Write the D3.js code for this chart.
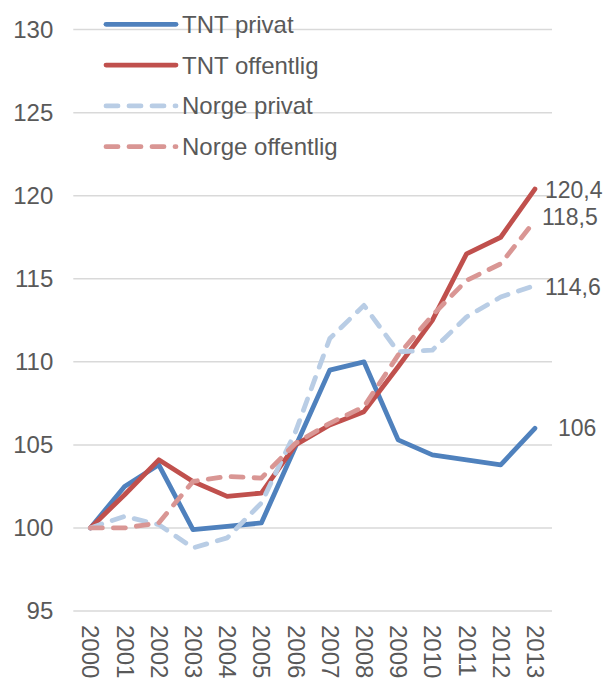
<!DOCTYPE html>
<html>
<head>
<meta charset="utf-8">
<script src="https://cdn.jsdelivr.net/npm/d3@7"></script>
<style>
  html, body { margin: 0; padding: 0; background: #ffffff; }
  svg { display: block; font-family: "Liberation Sans", Arial, sans-serif; }
</style>
</head>
<body>
<svg id="chart" width="606" height="678"></svg>
<script>
// ---- data ----
const years = ["2000","2001","2002","2003","2004","2005","2006","2007","2008","2009","2010","2011","2012","2013"];
const seriesNames = ["TNT privat", "TNT offentlig", "Norge privat", "Norge offentlig"];
const tntPrivat      = [100, 102.5, 103.8, 99.9, 100.1, 100.3, 104.9, 109.5, 110.0, 105.3, 104.4, 104.1, 103.8, 106];
const tntOffentlig   = [100, 102.0, 104.1, 102.8, 101.9, 102.1, 105.0, 106.2, 107.0, 109.7, 112.5, 116.5, 117.5, 120.4];
const norgePrivat    = [100, 100.7, 100.2, 98.8, 99.4, 101.5, 105.8, 111.4, 113.4, 110.6, 110.7, 112.7, 113.9, 114.6];
const norgeOffentlig = [100, 100.0, 100.3, 102.8, 103.1, 103.0, 105.1, 106.3, 107.3, 110.4, 112.8, 114.9, 115.9, 118.5];
const yTicks = [95, 100, 105, 110, 115, 120, 125, 130];

// ---- styles / layout ----
const styles = [
  { color: "#4F81BD", dash: null },
  { color: "#C0504D", dash: null },
  { color: "#B9CDE5", dash: "12,11" },
  { color: "#D99694", dash: "12,11" }
];
const endLabelOffsets = [ {dx: 23, dy: 0}, {dx: 10, dy: 1}, {dx: 10, dy: 2}, {dx: 7, dy: -4} ];
const allValues = [tntPrivat, tntOffentlig, norgePrivat, norgeOffentlig];
const textColor = "#595959";
const gridColor = "#D9D9D9";
const axisFont = 24, labelFont = 23, legendFont = 24;

const svg = d3.select("#chart");
const plotLeft = 73.3, plotRight = 552, plotTop = 29.6, plotBottom = 611;

const x = d3.scalePoint().domain(years).range([plotLeft, plotRight]).padding(0.5);
const y = d3.scaleLinear().domain([95, 130]).range([plotBottom, plotTop]);

// gridlines
svg.append("g").selectAll("line").data(yTicks.filter(t => t !== 95)).join("line")
  .attr("x1", plotLeft).attr("x2", plotRight)
  .attr("y1", d => y(d)).attr("y2", d => y(d))
  .attr("stroke", gridColor).attr("stroke-width", 1.5);

// y axis
const yAxis = svg.append("g").attr("transform", `translate(${plotLeft},0)`)
  .call(d3.axisLeft(y).tickValues(yTicks).tickSize(0).tickPadding(20).tickFormat(d3.format("d")));
yAxis.select(".domain").remove();
yAxis.selectAll("text").attr("fill", textColor).style("font-size", axisFont + "px")
  .style("font-family", "'Liberation Sans', Arial, sans-serif");

// x axis
const xAxis = svg.append("g").attr("transform", `translate(0,${plotBottom})`)
  .call(d3.axisBottom(x).tickSize(0).tickPadding(0));
xAxis.select(".domain").attr("stroke", gridColor).attr("stroke-width", 1.5)
  .attr("d", `M${plotLeft},0H${plotRight}`);
xAxis.selectAll("text")
  .attr("fill", textColor).style("font-size", axisFont + "px")
  .style("font-family", "'Liberation Sans', Arial, sans-serif")
  .attr("text-anchor", "start")
  .attr("y", 0).attr("x", 0).attr("dy", "0.35em")
  .attr("transform", "translate(0,14) rotate(90)");

// lines
const line = d3.line().x((d, i) => x(years[i])).y(d => y(d));
allValues.forEach((vals, k) => {
  svg.append("path").datum(vals)
    .attr("d", line)
    .attr("fill", "none")
    .attr("stroke", styles[k].color)
    .attr("stroke-width", 4.8)
    .attr("stroke-linejoin", "round")
    .attr("stroke-linecap", "round")
    .attr("stroke-dasharray", styles[k].dash);
});

// end labels
const fmt = v => String(v).replace(".", ",");
allValues.forEach((vals, k) => {
  const last = vals[vals.length - 1];
  svg.append("text")
    .attr("x", x(years[years.length - 1]) + endLabelOffsets[k].dx)
    .attr("y", y(last) + endLabelOffsets[k].dy)
    .attr("dy", "0.35em")
    .attr("fill", textColor)
    .style("font-size", labelFont + "px")
    .text(fmt(last));
});

// legend
const legend = svg.append("g");
const legendY0 = 24.3, legendStep = 40.8;
seriesNames.forEach((name, k) => {
  const yy = legendY0 + k * legendStep;
  legend.append("line")
    .attr("x1", 106).attr("x2", 176).attr("y1", yy).attr("y2", yy)
    .attr("stroke", styles[k].color).attr("stroke-width", 4.8)
    .attr("stroke-linecap", "round")
    .attr("stroke-dasharray", styles[k].dash);
  legend.append("text")
    .attr("x", 182).attr("y", yy).attr("dy", "0.35em")
    .attr("fill", textColor).style("font-size", legendFont + "px")
    .text(name);
});
</script>
</body>
</html>
